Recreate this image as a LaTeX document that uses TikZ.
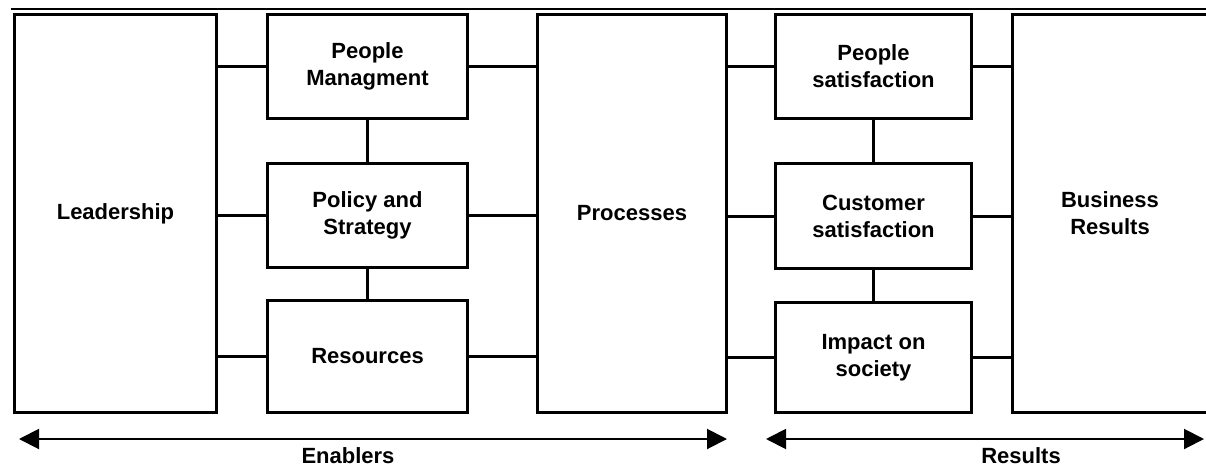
\documentclass[tikz,border=0pt]{standalone}
\usepackage{fontspec}
\setmainfont{Liberation Sans}
\usetikzlibrary{arrows.meta}
\tikzset{
	block/.style={
			draw, line width=3pt, align=center, inner sep=0pt,
			font=\fontsize{22}{27}\selectfont\bfseries
		},
	link/.style={line width=3pt},
	span/.style={
			line width=2pt,
			{Triangle[length=20pt,width=20pt]}-{Triangle[length=20pt,width=20pt]}
		},
	caption/.style={anchor=base, font=\fontsize{22}{27}\selectfont\bfseries}
}

\begin{document}
\begin{tikzpicture}[x=1pt,y=-1pt]
			\useasboundingbox (0,0) rectangle (1206,474);
			\clip (0,0) rectangle (1206,474);

			\draw[line width=2pt] (11,9) -- (1206,9);

			% enablers
			\node[block, minimum width=202pt, minimum height=398pt] (lead) at (115.5,213.5) {Leadership};
			\node[block, minimum width=200pt, minimum height=104pt] (people) at (367.5,66.5) {People\\Managment};
			\node[block, minimum width=200pt, minimum height=104pt] (policy) at (367.5,215.5) {Policy and\\Strategy};
			\node[block, minimum width=200pt, minimum height=112pt] (resources) at (367.5,356.5) {Resources};
			\node[block, minimum width=189pt, minimum height=398pt] (processes) at (632,213.5) {Processes};

			% results
			\node[block, minimum width=196pt, minimum height=104pt] (peoplesat) at (873.5,66.5) {People\\satisfaction};
			\node[block, minimum width=196pt, minimum height=105pt] (custsat) at (873.5,216) {Customer\\satisfaction};
			\node[block, minimum width=196pt, minimum height=110pt] (society) at (873.5,357.5) {Impact on\\society};
			\node[block, minimum width=195pt, minimum height=398pt] (business) at (1110,213.5) {Business\\Results};

			\foreach \n in {people,policy,resources} {
				\draw[link] (\n.west) -- (\n.west -| lead.east);
				\draw[link] (\n.east) -- (\n.east -| processes.west);
			}
			\foreach \n in {peoplesat,custsat,society} {
				\draw[link] (\n.west) -- (\n.west -| processes.east);
				\draw[link] (\n.east) -- (\n.east -| business.west);
			}
			\draw[link] (people) -- (policy);
			\draw[link] (policy) -- (resources);
			\draw[link] (peoplesat) -- (custsat);
			\draw[link] (custsat) -- (society);

			% spans along the bottom
			\coordinate (enablersL) at (19,439);
			\coordinate (enablersR) at (727,439);
			\coordinate (resultsL) at (766,439);
			\coordinate (resultsR) at (1204,439);
			\draw[span] (enablersL) -- (enablersR);
			\draw[span] (resultsL) -- (resultsR);
			\node[caption] (enablers) at (348,463) {Enablers};
			\node[caption] (results) at (1021,463) {Results};
		\end{tikzpicture}
\end{document}
